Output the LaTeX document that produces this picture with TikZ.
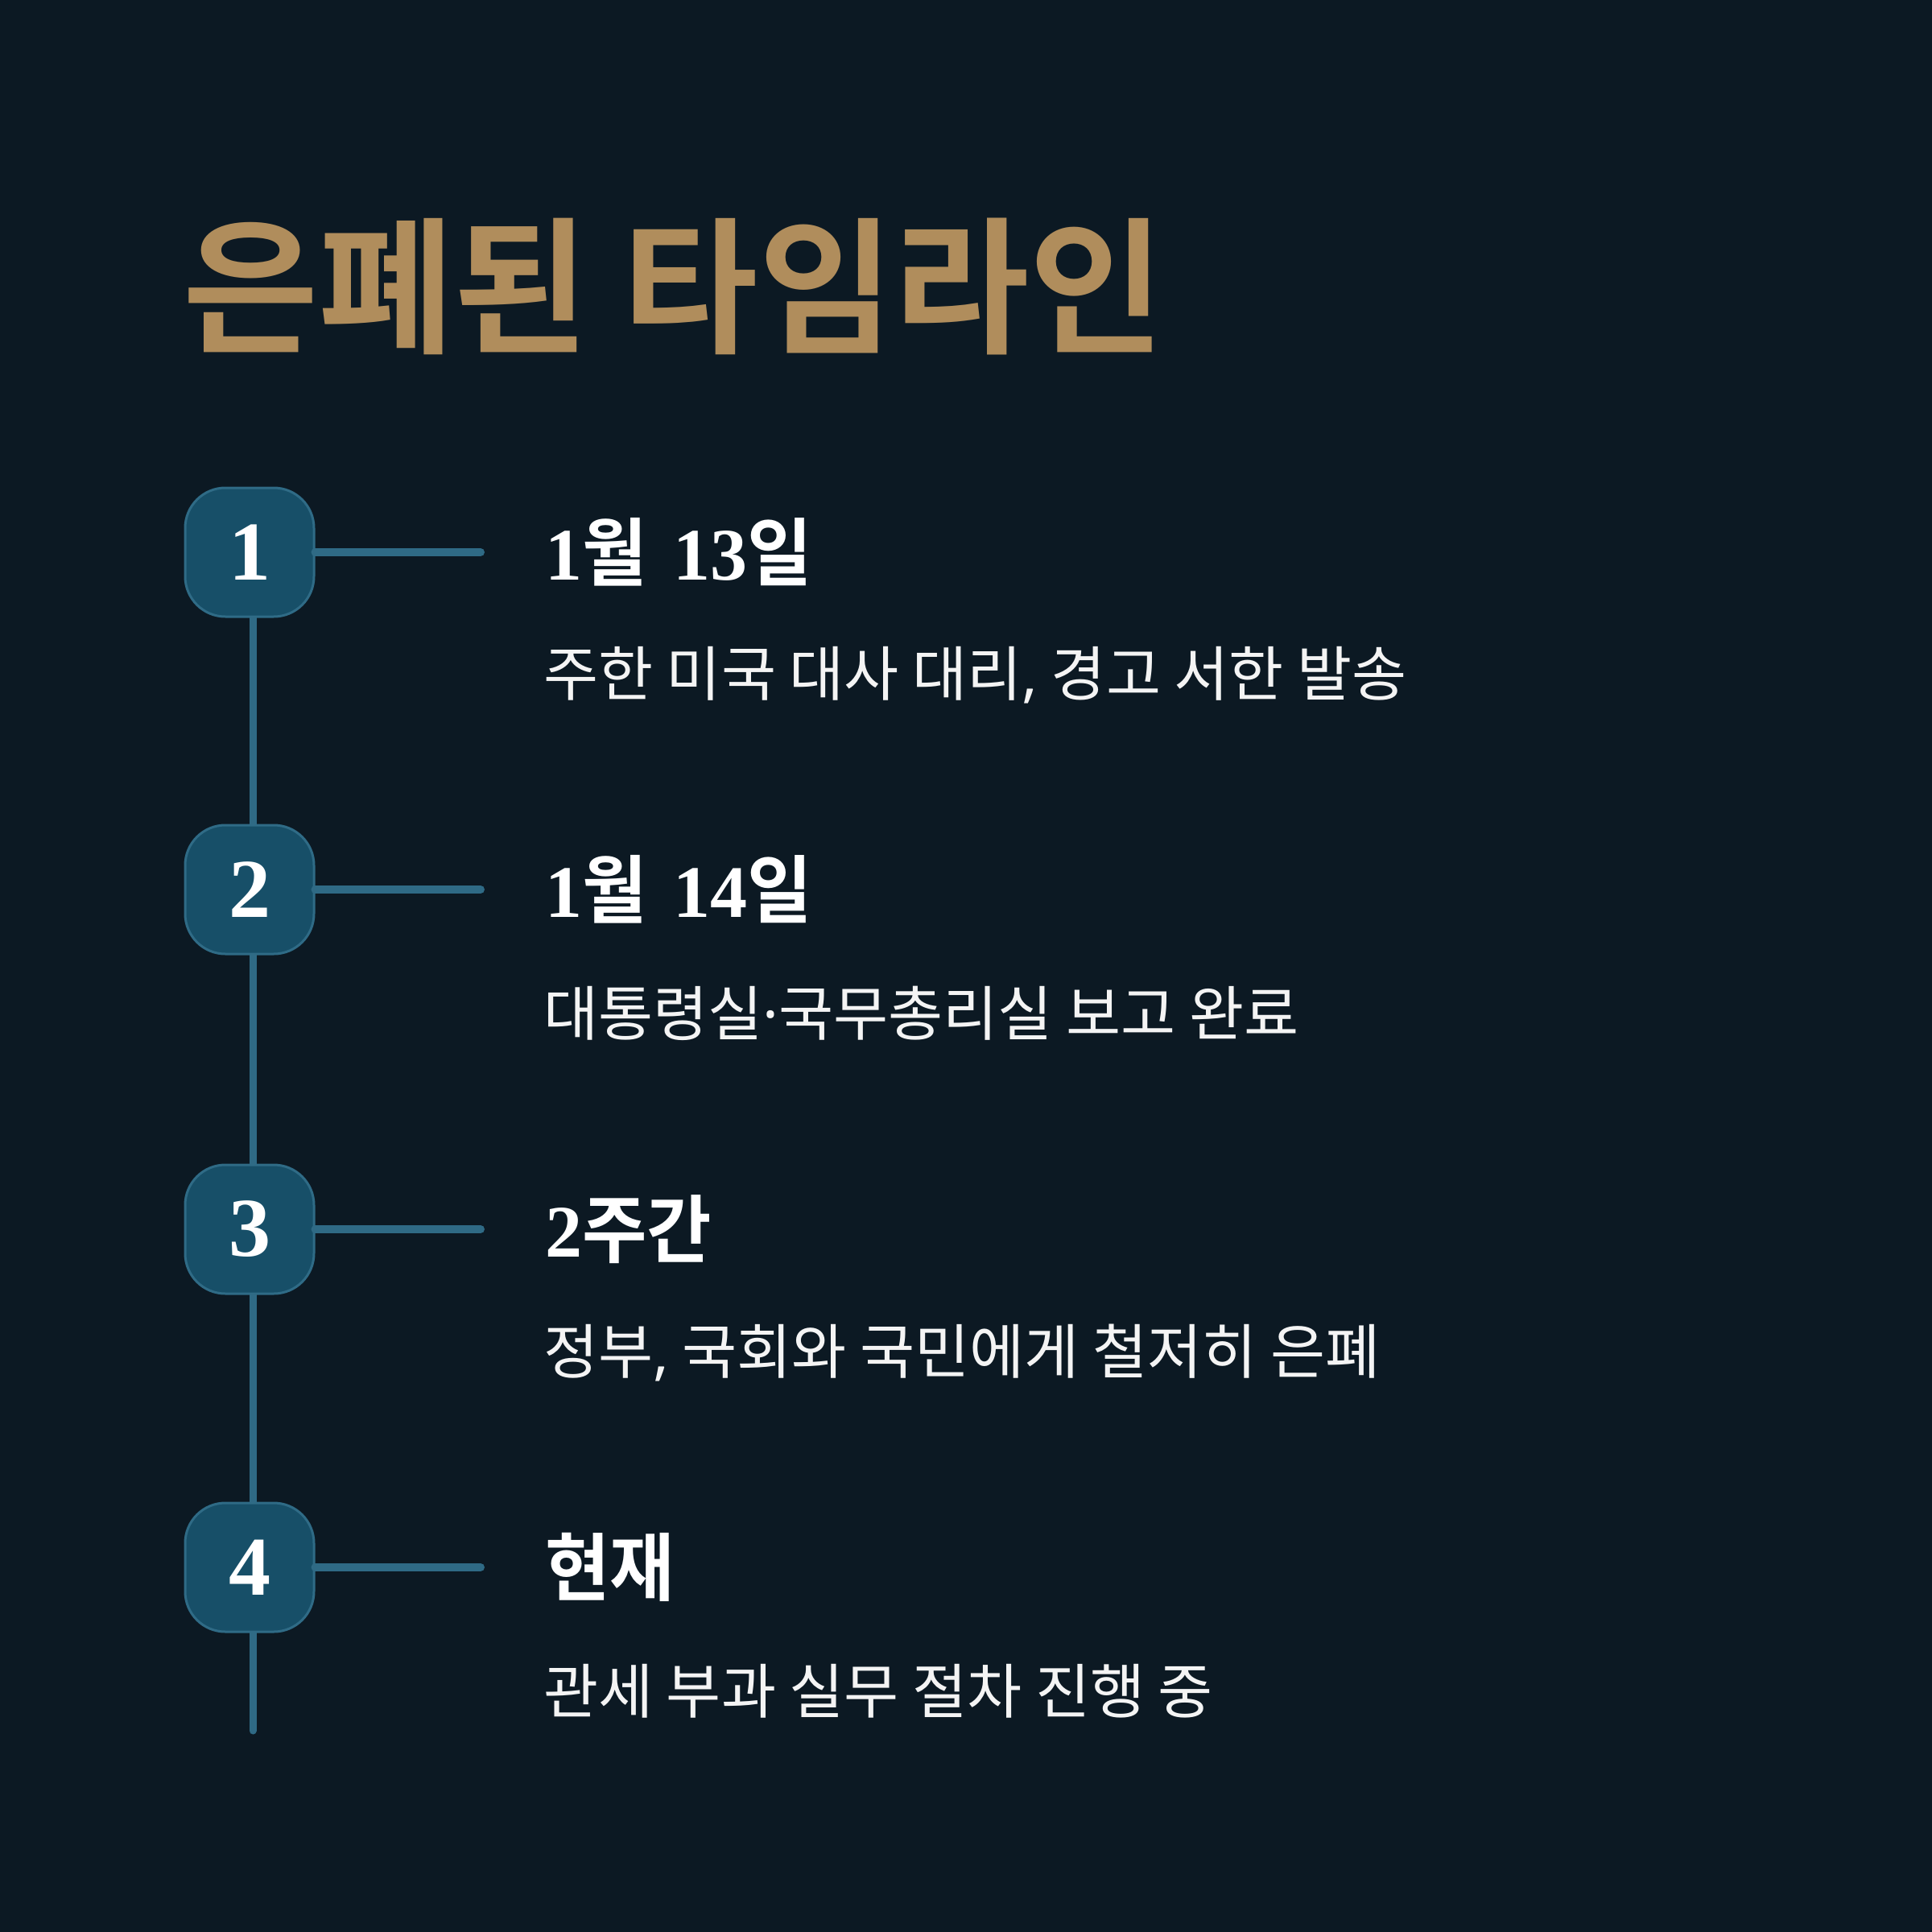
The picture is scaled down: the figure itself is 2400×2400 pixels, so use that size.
\documentclass[tikz,border=0pt]{standalone}
\usepackage{fontspec}
\newfontfamily\kohead{Noto Sans CJK KR Bold}
\newfontfamily\kobold{Noto Sans CJK KR Bold}[FakeStretch=0.95]
\newfontfamily\koreg{Noto Sans CJK KR}
\newfontfamily\latf{Noto Sans}
\newfontfamily\numf{Liberation Serif}
\definecolor{bg}{HTML}{0C1923}
\definecolor{gold}{HTML}{B08D5C}
\definecolor{boxfill}{HTML}{174F68}
\definecolor{boxline}{HTML}{2F6B86}
\definecolor{conn}{HTML}{2F6A85}
\definecolor{subtext}{HTML}{F4F4F4}
\newcommand{\dg}[1]{{\numf\bfseries #1}}
\newcommand{\gap}{\hspace{33pt}}
\tikzset{
  numbox/.style={draw=boxline, line width=3pt, fill=boxfill, rounded corners=50pt,
    minimum width=160pt, minimum height=160pt, inner sep=0pt, text=white,
    font=\numf\bfseries\fontsize{104}{110}\selectfont},
  stem/.style={conn, line width=9pt, line cap=round},
  branch/.style={conn, line width=10pt, line cap=round},
  datelabel/.style={anchor=west, inner sep=0pt, text=white,
    font=\kobold\fontsize{92}{100}\selectfont},
  desclabel/.style={anchor=west, inner sep=0pt, text=subtext,
    font=\koreg\fontsize{74}{80}\selectfont},
}
\begin{document}
\begin{tikzpicture}[x=1pt,y=-1pt]
\fill[bg] (0,0) rectangle (2400,2400);
\useasboundingbox (0,0) rectangle (2400,2400);
\node[anchor=west, inner sep=0pt, text=gold, font=\kohead\fontsize{183}{190}\selectfont] (head) at (227,356) {은폐된 타임라인};
% stem
\coordinate (top) at (314,686);
\coordinate (bot) at (314,2150);
\draw[stem] (top) -- (bot);
% boxes
\node[numbox] (b1) at (310,686) {1};
\node[numbox] (b2) at (310,1105) {2};
\node[numbox] (b3) at (310,1527) {3};
\node[numbox] (b4) at (310,1947) {4};
\coordinate (e1) at (597,686);
\coordinate (e2) at (597,1105);
\coordinate (e3) at (597,1527);
\coordinate (e4) at (597,1947);
\draw[branch] (b1.east) -- (e1);
\draw[branch] (b2.east) -- (e2);
\draw[branch] (b3.east) -- (e3);
\draw[branch] (b4.east) -- (e4);
% labels
\node[datelabel] (t1) at (677,686) {\dg{1}월\gap\dg{13}일};
\node[desclabel] (d1) at (675,839) {주한 미국 대사 대리{\latf,} 경고 서한 발송};
\node[datelabel] (t2) at (677,1105) {\dg{1}월\gap\dg{14}일};
\node[desclabel] (d2) at (675,1259) {대통령실{\latf ·}국무총리실 보고 완료};
\node[datelabel] (t3) at (677,1527) {\dg{2}주간};
\node[desclabel] (d3) at (675,1681) {정부{\latf,} 국회와 국민에게 철저히 은폐};
\node[datelabel] (t4) at (677,1947) {현재};
\node[desclabel] (d4) at (675,2101) {관세 부과 실무 절차 진행 중};
\end{tikzpicture}
\end{document}
